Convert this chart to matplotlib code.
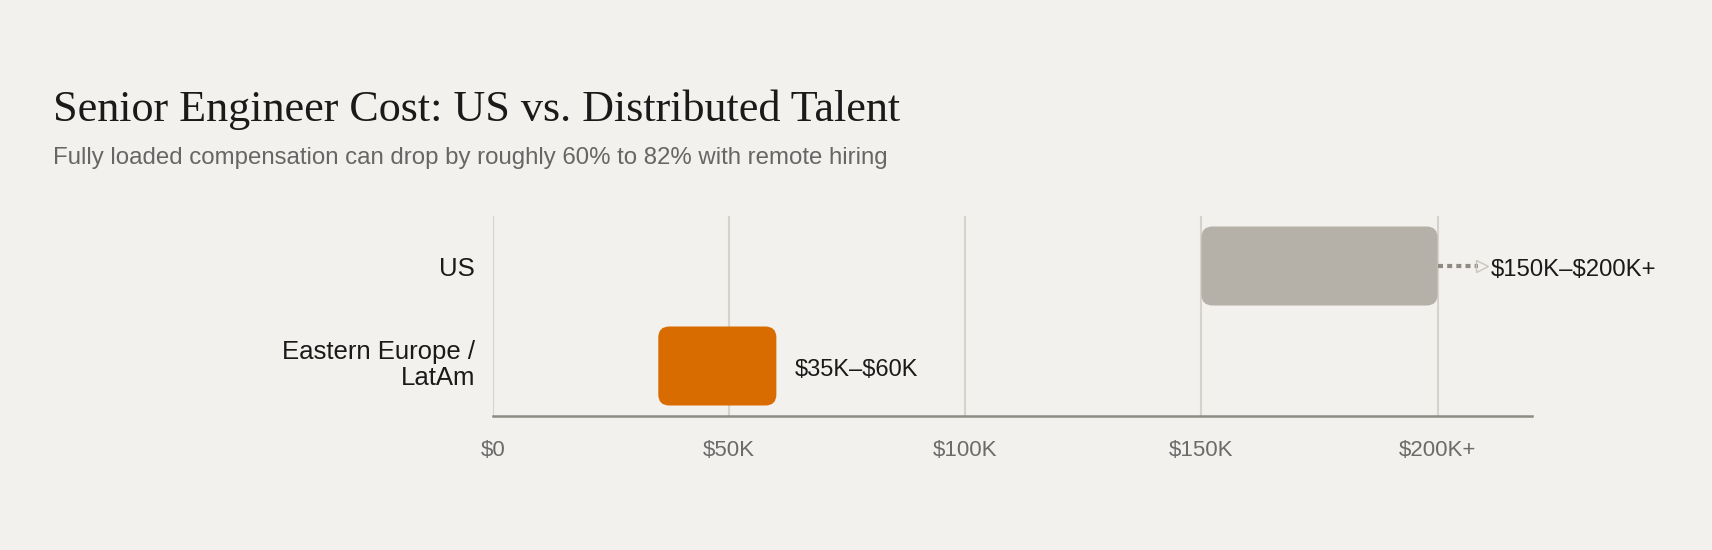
import matplotlib
matplotlib.use("Agg")
import matplotlib.pyplot as plt
from matplotlib.patches import FancyBboxPatch
import matplotlib.transforms as mtransforms

plt.rcParams["text.parse_math"] = False

categories = ["Eastern Europe /\nLatAm", "US"]
low_values = [35000, 150000]
high_values = [60000, 200000]
bar_labels = ["$35K–$60K", "$150K–$200K+"]
bar_colors = ["#D96C00", "#B5B1A9"]
tick_values = [0, 50000, 100000, 150000, 200000]
tick_labels = ["$0", "$50K", "$100K", "$150K", "$200K+"]

title = "Senior Engineer Cost: US vs. Distributed Talent"
subtitle = "Fully loaded compensation can drop by roughly 60% to 82% with remote hiring"

BG = "#F3F1ED"
W, H = 1712, 550
fig = plt.figure(figsize=(W / 100, H / 100), dpi=100, facecolor=BG)
ax = fig.add_axes([493 / W, 1 - 416 / H, (1532 - 493) / W, (416 - 216) / H])
ax.set_facecolor(BG)

xmax = 220000
ax.set_xlim(0, xmax)
ax.set_ylim(-0.5, 1.5)

ax_w_px = 1532 - 493
ax_h_px = 416 - 216
x_per_px = xmax / ax_w_px
y_per_px = 2.0 / ax_h_px
radius_px = 11
bar_h = 0.79

for i, (lo, hi, col) in enumerate(zip(low_values, high_values, bar_colors)):
    p = FancyBboxPatch((lo, i - bar_h / 2), hi - lo, bar_h,
                       boxstyle=f"round,pad=0,rounding_size={radius_px * x_per_px}",
                       mutation_aspect=y_per_px / x_per_px,
                       facecolor=col, edgecolor="none", zorder=3)
    ax.add_patch(p)

lab_dy = -4 * y_per_px
ax.text(high_values[0] + 18 * x_per_px, 0 + lab_dy, bar_labels[0], va="center", ha="left",
        fontsize=17, color="#1a1a1a", family="Liberation Sans", zorder=4)

lead_end = high_values[1] + 44 * x_per_px
ax.plot([high_values[1], lead_end - 4 * x_per_px], [1, 1], linestyle=(0, (1.2, 1.0)),
        color="#8E8A84", linewidth=3, solid_capstyle="butt", zorder=2)
ax.plot([lead_end], [1], marker=">", markersize=9, markerfacecolor="none",
        markeredgecolor="#C9C5BE", markeredgewidth=1.0, zorder=2)
ax.text(lead_end + 9 * x_per_px, 1 + lab_dy, bar_labels[1], va="center", ha="left",
        fontsize=17.2, color="#1a1a1a", family="Liberation Sans", zorder=4)

for t in tick_values:
    ax.axvline(t, color="#D6D3CD", linewidth=1.5, zorder=1)

for s in ["top", "right", "left"]:
    ax.spines[s].set_visible(False)
ax.spines["bottom"].set_color("#8E8A84")
ax.spines["bottom"].set_linewidth(1.8)

ax.set_xticks(tick_values)
ax.set_xticklabels(tick_labels, fontsize=16, color="#6B6B6B", family="Liberation Sans")
ax.tick_params(axis="x", length=0, pad=17)
ax.set_yticks(range(len(categories)))
ax.set_yticklabels(categories, fontsize=18.5, color="#1a1a1a", family="Liberation Sans",
                   linespacing=1.15)
ax.tick_params(axis="y", length=0, pad=13)
# nudge the two-line label up slightly
lbl = ax.get_yticklabels()[0]
lbl.set_transform(lbl.get_transform() + mtransforms.ScaledTranslation(0, 5 / 100, fig.dpi_scale_trans))

fig.text(53 / W, 1 - 121 / H, title, fontsize=31.8, family="Liberation Serif",
         color="#1a1a1a", ha="left", va="baseline")
fig.text(53 / W, 1 - 164 / H, subtitle, fontsize=17.3, family="Liberation Sans",
         color="#666666", ha="left", va="baseline")

fig.savefig("out.png", dpi=100, facecolor=BG)
